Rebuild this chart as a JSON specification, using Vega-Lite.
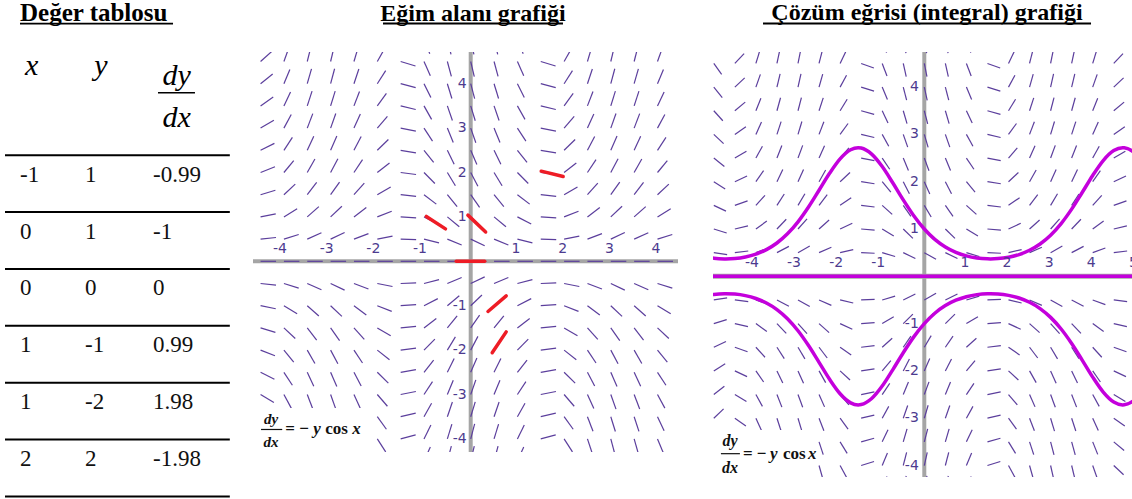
{
"$schema":"https://vega.github.io/schema/vega-lite/v6.json",
"padding":0,
"background":"white",
"spacing":20,
"config":{"view":{"stroke":null},"axis":{"disable":true}},
"resolve":{"scale":{"angle":"independent"}},
"datasets":{
"table":[{"i":1,"x":"-1","y":"1","d":"-0.99"},{"i":2,"x":"0","y":"1","d":"-1"},{"i":3,"x":"0","y":"0","d":"0"},{"i":4,"x":"1","y":"-1","d":"0.99"},{"i":5,"x":"1","y":"-2","d":"1.98"},{"i":6,"x":"2","y":"2","d":"-1.98"}],
"ticks":[{"v":-4,"t":"-4"},{"v":-3,"t":"-3"},{"v":-2,"t":"-2"},{"v":-1,"t":"-1"},{"v":1,"t":"1"},{"v":2,"t":"2"},{"v":3,"t":"3"},{"v":4,"t":"4"},{"v":5,"t":"5"}],
"red":[{"x1":-0.95,"y1":1.01,"x2":-0.54,"y2":0.73},{"x1":-0.06,"y1":1.04,"x2":0.32,"y2":0.66},{"x1":-0.31,"y1":0,"x2":0.3,"y2":0},{"x1":1.51,"y1":2.03,"x2":1.98,"y2":1.91},{"x1":0.37,"y1":-1.13,"x2":0.76,"y2":-0.78},{"x1":0.46,"y1":-2.06,"x2":0.76,"y2":-1.59}],
"curves":[
{"c":"u","x":-5.1,"y":0.3962},{"c":"u","x":-5,"y":0.3833},{"c":"u","x":-4.75,"y":0.3681},{"c":"u","x":-4.7124,"y":0.3679},{"c":"u","x":-4.5,"y":0.3762},{"c":"u","x":-4.25,"y":0.4086},{"c":"u","x":-4,"y":0.4692},{"c":"u","x":-3.75,"y":0.5646},{"c":"u","x":-3.5,"y":0.7041},{"c":"u","x":-3.25,"y":0.8974},{"c":"u","x":-3,"y":1.1515},{"c":"u","x":-2.75,"y":1.4648},{"c":"u","x":-2.5,"y":1.8194},{"c":"u","x":-2.25,"y":2.1773},{"c":"u","x":-2,"y":2.4826},{"c":"u","x":-1.75,"y":2.6752},{"c":"u","x":-1.5708,"y":2.7183},{"c":"u","x":-1.5,"y":2.7115},{"c":"u","x":-1.25,"y":2.5831},{"c":"u","x":-1,"y":2.3198},{"c":"u","x":-0.75,"y":1.9771},{"c":"u","x":-0.5,"y":1.6151},{"c":"u","x":-0.25,"y":1.2807},{"c":"u","x":0,"y":1},{"c":"u","x":0.25,"y":0.7808},{"c":"u","x":0.5,"y":0.6192},{"c":"u","x":0.75,"y":0.5058},{"c":"u","x":1,"y":0.4311},{"c":"u","x":1.25,"y":0.3871},{"c":"u","x":1.5,"y":0.3688},{"c":"u","x":1.5708,"y":0.3679},{"c":"u","x":1.75,"y":0.3738},{"c":"u","x":2,"y":0.4028},{"c":"u","x":2.25,"y":0.4593},{"c":"u","x":2.5,"y":0.5496},{"c":"u","x":2.75,"y":0.6827},{"c":"u","x":3,"y":0.8684},{"c":"u","x":3.25,"y":1.1143},{"c":"u","x":3.5,"y":1.4202},{"c":"u","x":3.75,"y":1.771},{"c":"u","x":4,"y":2.1314},{"c":"u","x":4.25,"y":2.4473},{"c":"u","x":4.5,"y":2.6578},{"c":"u","x":4.7124,"y":2.7183},{"c":"u","x":4.75,"y":2.7164},{"c":"u","x":5,"y":2.6088},{"c":"u","x":5.1,"y":2.5239},
{"c":"l","x":-5.1,"y":-0.3962},{"c":"l","x":-5,"y":-0.3833},{"c":"l","x":-4.75,"y":-0.3681},{"c":"l","x":-4.7124,"y":-0.3679},{"c":"l","x":-4.5,"y":-0.3762},{"c":"l","x":-4.25,"y":-0.4086},{"c":"l","x":-4,"y":-0.4692},{"c":"l","x":-3.75,"y":-0.5646},{"c":"l","x":-3.5,"y":-0.7041},{"c":"l","x":-3.25,"y":-0.8974},{"c":"l","x":-3,"y":-1.1515},{"c":"l","x":-2.75,"y":-1.4648},{"c":"l","x":-2.5,"y":-1.8194},{"c":"l","x":-2.25,"y":-2.1773},{"c":"l","x":-2,"y":-2.4826},{"c":"l","x":-1.75,"y":-2.6752},{"c":"l","x":-1.5708,"y":-2.7183},{"c":"l","x":-1.5,"y":-2.7115},{"c":"l","x":-1.25,"y":-2.5831},{"c":"l","x":-1,"y":-2.3198},{"c":"l","x":-0.75,"y":-1.9771},{"c":"l","x":-0.5,"y":-1.6151},{"c":"l","x":-0.25,"y":-1.2807},{"c":"l","x":0,"y":-1},{"c":"l","x":0.25,"y":-0.7808},{"c":"l","x":0.5,"y":-0.6192},{"c":"l","x":0.75,"y":-0.5058},{"c":"l","x":1,"y":-0.4311},{"c":"l","x":1.25,"y":-0.3871},{"c":"l","x":1.5,"y":-0.3688},{"c":"l","x":1.5708,"y":-0.3679},{"c":"l","x":1.75,"y":-0.3738},{"c":"l","x":2,"y":-0.4028},{"c":"l","x":2.25,"y":-0.4593},{"c":"l","x":2.5,"y":-0.5496},{"c":"l","x":2.75,"y":-0.6827},{"c":"l","x":3,"y":-0.8684},{"c":"l","x":3.25,"y":-1.1143},{"c":"l","x":3.5,"y":-1.4202},{"c":"l","x":3.75,"y":-1.771},{"c":"l","x":4,"y":-2.1314},{"c":"l","x":4.25,"y":-2.4473},{"c":"l","x":4.5,"y":-2.6578},{"c":"l","x":4.7124,"y":-2.7183},{"c":"l","x":4.75,"y":-2.7164},{"c":"l","x":5,"y":-2.6088},{"c":"l","x":5.1,"y":-2.5239},
{"c":"z","x":-5.1,"y":0},{"c":"z","x":5.1,"y":0}],
"field":[
{"x":-5,"y":-4.5,"s":1.28},{"x":-5,"y":-4,"s":1.13},{"x":-5,"y":-3.5,"s":0.99},{"x":-5,"y":-3,"s":0.85},{"x":-5,"y":-2.5,"s":0.71},{"x":-5,"y":-2,"s":0.57},{"x":-5,"y":-1.5,"s":0.43},{"x":-5,"y":-1,"s":0.28},{"x":-5,"y":-0.5,"s":0.14},{"x":-5,"y":0,"s":0},{"x":-5,"y":0.5,"s":-0.14},{"x":-5,"y":1,"s":-0.28},{"x":-5,"y":1.5,"s":-0.43},{"x":-5,"y":2,"s":-0.57},{"x":-5,"y":2.5,"s":-0.71},{"x":-5,"y":3,"s":-0.85},{"x":-5,"y":3.5,"s":-0.99},{"x":-5,"y":4,"s":-1.13},{"x":-5,"y":4.5,"s":-1.28},{"x":-5,"y":5,"s":-1.42},
{"x":-4.5,"y":-4.5,"s":-0.95},{"x":-4.5,"y":-4,"s":-0.84},{"x":-4.5,"y":-3.5,"s":-0.74},{"x":-4.5,"y":-3,"s":-0.63},{"x":-4.5,"y":-2.5,"s":-0.53},{"x":-4.5,"y":-2,"s":-0.42},{"x":-4.5,"y":-1.5,"s":-0.32},{"x":-4.5,"y":-1,"s":-0.21},{"x":-4.5,"y":-0.5,"s":-0.11},{"x":-4.5,"y":0,"s":0},{"x":-4.5,"y":0.5,"s":0.11},{"x":-4.5,"y":1,"s":0.21},{"x":-4.5,"y":1.5,"s":0.32},{"x":-4.5,"y":2,"s":0.42},{"x":-4.5,"y":2.5,"s":0.53},{"x":-4.5,"y":3,"s":0.63},{"x":-4.5,"y":3.5,"s":0.74},{"x":-4.5,"y":4,"s":0.84},{"x":-4.5,"y":4.5,"s":0.95},{"x":-4.5,"y":5,"s":1.05},
{"x":-4,"y":-4.5,"s":-2.94},{"x":-4,"y":-4,"s":-2.61},{"x":-4,"y":-3.5,"s":-2.29},{"x":-4,"y":-3,"s":-1.96},{"x":-4,"y":-2.5,"s":-1.63},{"x":-4,"y":-2,"s":-1.31},{"x":-4,"y":-1.5,"s":-0.98},{"x":-4,"y":-1,"s":-0.65},{"x":-4,"y":-0.5,"s":-0.33},{"x":-4,"y":0,"s":0},{"x":-4,"y":0.5,"s":0.33},{"x":-4,"y":1,"s":0.65},{"x":-4,"y":1.5,"s":0.98},{"x":-4,"y":2,"s":1.31},{"x":-4,"y":2.5,"s":1.63},{"x":-4,"y":3,"s":1.96},{"x":-4,"y":3.5,"s":2.29},{"x":-4,"y":4,"s":2.61},{"x":-4,"y":4.5,"s":2.94},{"x":-4,"y":5,"s":3.27},
{"x":-3.5,"y":-4.5,"s":-4.21},{"x":-3.5,"y":-4,"s":-3.75},{"x":-3.5,"y":-3.5,"s":-3.28},{"x":-3.5,"y":-3,"s":-2.81},{"x":-3.5,"y":-2.5,"s":-2.34},{"x":-3.5,"y":-2,"s":-1.87},{"x":-3.5,"y":-1.5,"s":-1.4},{"x":-3.5,"y":-1,"s":-0.94},{"x":-3.5,"y":-0.5,"s":-0.47},{"x":-3.5,"y":0,"s":0},{"x":-3.5,"y":0.5,"s":0.47},{"x":-3.5,"y":1,"s":0.94},{"x":-3.5,"y":1.5,"s":1.4},{"x":-3.5,"y":2,"s":1.87},{"x":-3.5,"y":2.5,"s":2.34},{"x":-3.5,"y":3,"s":2.81},{"x":-3.5,"y":3.5,"s":3.28},{"x":-3.5,"y":4,"s":3.75},{"x":-3.5,"y":4.5,"s":4.21},{"x":-3.5,"y":5,"s":4.68},
{"x":-3,"y":-4.5,"s":-4.46},{"x":-3,"y":-4,"s":-3.96},{"x":-3,"y":-3.5,"s":-3.47},{"x":-3,"y":-3,"s":-2.97},{"x":-3,"y":-2.5,"s":-2.48},{"x":-3,"y":-2,"s":-1.98},{"x":-3,"y":-1.5,"s":-1.49},{"x":-3,"y":-1,"s":-0.99},{"x":-3,"y":-0.5,"s":-0.5},{"x":-3,"y":0,"s":0},{"x":-3,"y":0.5,"s":0.5},{"x":-3,"y":1,"s":0.99},{"x":-3,"y":1.5,"s":1.49},{"x":-3,"y":2,"s":1.98},{"x":-3,"y":2.5,"s":2.48},{"x":-3,"y":3,"s":2.97},{"x":-3,"y":3.5,"s":3.47},{"x":-3,"y":4,"s":3.96},{"x":-3,"y":4.5,"s":4.46},{"x":-3,"y":5,"s":4.95},
{"x":-2.5,"y":-4.5,"s":-3.6},{"x":-2.5,"y":-4,"s":-3.2},{"x":-2.5,"y":-3.5,"s":-2.8},{"x":-2.5,"y":-3,"s":-2.4},{"x":-2.5,"y":-2.5,"s":-2},{"x":-2.5,"y":-2,"s":-1.6},{"x":-2.5,"y":-1.5,"s":-1.2},{"x":-2.5,"y":-1,"s":-0.8},{"x":-2.5,"y":-0.5,"s":-0.4},{"x":-2.5,"y":0,"s":0},{"x":-2.5,"y":0.5,"s":0.4},{"x":-2.5,"y":1,"s":0.8},{"x":-2.5,"y":1.5,"s":1.2},{"x":-2.5,"y":2,"s":1.6},{"x":-2.5,"y":2.5,"s":2},{"x":-2.5,"y":3,"s":2.4},{"x":-2.5,"y":3.5,"s":2.8},{"x":-2.5,"y":4,"s":3.2},{"x":-2.5,"y":4.5,"s":3.6},{"x":-2.5,"y":5,"s":4.01},
{"x":-2,"y":-4.5,"s":-1.87},{"x":-2,"y":-4,"s":-1.66},{"x":-2,"y":-3.5,"s":-1.46},{"x":-2,"y":-3,"s":-1.25},{"x":-2,"y":-2.5,"s":-1.04},{"x":-2,"y":-2,"s":-0.83},{"x":-2,"y":-1.5,"s":-0.62},{"x":-2,"y":-1,"s":-0.42},{"x":-2,"y":-0.5,"s":-0.21},{"x":-2,"y":0,"s":0},{"x":-2,"y":0.5,"s":0.21},{"x":-2,"y":1,"s":0.42},{"x":-2,"y":1.5,"s":0.62},{"x":-2,"y":2,"s":0.83},{"x":-2,"y":2.5,"s":1.04},{"x":-2,"y":3,"s":1.25},{"x":-2,"y":3.5,"s":1.46},{"x":-2,"y":4,"s":1.66},{"x":-2,"y":4.5,"s":1.87},{"x":-2,"y":5,"s":2.08},
{"x":-1.5,"y":-4.5,"s":0.32},{"x":-1.5,"y":-4,"s":0.28},{"x":-1.5,"y":-3.5,"s":0.25},{"x":-1.5,"y":-3,"s":0.21},{"x":-1.5,"y":-2.5,"s":0.18},{"x":-1.5,"y":-2,"s":0.14},{"x":-1.5,"y":-1.5,"s":0.11},{"x":-1.5,"y":-1,"s":0.07},{"x":-1.5,"y":-0.5,"s":0.04},{"x":-1.5,"y":0,"s":0},{"x":-1.5,"y":0.5,"s":-0.04},{"x":-1.5,"y":1,"s":-0.07},{"x":-1.5,"y":1.5,"s":-0.11},{"x":-1.5,"y":2,"s":-0.14},{"x":-1.5,"y":2.5,"s":-0.18},{"x":-1.5,"y":3,"s":-0.21},{"x":-1.5,"y":3.5,"s":-0.25},{"x":-1.5,"y":4,"s":-0.28},{"x":-1.5,"y":4.5,"s":-0.32},{"x":-1.5,"y":5,"s":-0.35},
{"x":-1,"y":-4.5,"s":2.43},{"x":-1,"y":-4,"s":2.16},{"x":-1,"y":-3.5,"s":1.89},{"x":-1,"y":-3,"s":1.62},{"x":-1,"y":-2.5,"s":1.35},{"x":-1,"y":-2,"s":1.08},{"x":-1,"y":-1.5,"s":0.81},{"x":-1,"y":-1,"s":0.54},{"x":-1,"y":-0.5,"s":0.27},{"x":-1,"y":0,"s":0},{"x":-1,"y":0.5,"s":-0.27},{"x":-1,"y":1,"s":-0.54},{"x":-1,"y":1.5,"s":-0.81},{"x":-1,"y":2,"s":-1.08},{"x":-1,"y":2.5,"s":-1.35},{"x":-1,"y":3,"s":-1.62},{"x":-1,"y":3.5,"s":-1.89},{"x":-1,"y":4,"s":-2.16},{"x":-1,"y":4.5,"s":-2.43},{"x":-1,"y":5,"s":-2.7},
{"x":-0.5,"y":-4.5,"s":3.95},{"x":-0.5,"y":-4,"s":3.51},{"x":-0.5,"y":-3.5,"s":3.07},{"x":-0.5,"y":-3,"s":2.63},{"x":-0.5,"y":-2.5,"s":2.19},{"x":-0.5,"y":-2,"s":1.76},{"x":-0.5,"y":-1.5,"s":1.32},{"x":-0.5,"y":-1,"s":0.88},{"x":-0.5,"y":-0.5,"s":0.44},{"x":-0.5,"y":0,"s":0},{"x":-0.5,"y":0.5,"s":-0.44},{"x":-0.5,"y":1,"s":-0.88},{"x":-0.5,"y":1.5,"s":-1.32},{"x":-0.5,"y":2,"s":-1.76},{"x":-0.5,"y":2.5,"s":-2.19},{"x":-0.5,"y":3,"s":-2.63},{"x":-0.5,"y":3.5,"s":-3.07},{"x":-0.5,"y":4,"s":-3.51},{"x":-0.5,"y":4.5,"s":-3.95},{"x":-0.5,"y":5,"s":-4.39},
{"x":0,"y":-4.5,"s":4.5},{"x":0,"y":-4,"s":4},{"x":0,"y":-3.5,"s":3.5},{"x":0,"y":-3,"s":3},{"x":0,"y":-2.5,"s":2.5},{"x":0,"y":-2,"s":2},{"x":0,"y":-1.5,"s":1.5},{"x":0,"y":-1,"s":1},{"x":0,"y":-0.5,"s":0.5},{"x":0,"y":0,"s":0},{"x":0,"y":0.5,"s":-0.5},{"x":0,"y":1,"s":-1},{"x":0,"y":1.5,"s":-1.5},{"x":0,"y":2,"s":-2},{"x":0,"y":2.5,"s":-2.5},{"x":0,"y":3,"s":-3},{"x":0,"y":3.5,"s":-3.5},{"x":0,"y":4,"s":-4},{"x":0,"y":4.5,"s":-4.5},{"x":0,"y":5,"s":-5},
{"x":0.5,"y":-4.5,"s":3.95},{"x":0.5,"y":-4,"s":3.51},{"x":0.5,"y":-3.5,"s":3.07},{"x":0.5,"y":-3,"s":2.63},{"x":0.5,"y":-2.5,"s":2.19},{"x":0.5,"y":-2,"s":1.76},{"x":0.5,"y":-1.5,"s":1.32},{"x":0.5,"y":-1,"s":0.88},{"x":0.5,"y":-0.5,"s":0.44},{"x":0.5,"y":0,"s":0},{"x":0.5,"y":0.5,"s":-0.44},{"x":0.5,"y":1,"s":-0.88},{"x":0.5,"y":1.5,"s":-1.32},{"x":0.5,"y":2,"s":-1.76},{"x":0.5,"y":2.5,"s":-2.19},{"x":0.5,"y":3,"s":-2.63},{"x":0.5,"y":3.5,"s":-3.07},{"x":0.5,"y":4,"s":-3.51},{"x":0.5,"y":4.5,"s":-3.95},{"x":0.5,"y":5,"s":-4.39},
{"x":1,"y":-4.5,"s":2.43},{"x":1,"y":-4,"s":2.16},{"x":1,"y":-3.5,"s":1.89},{"x":1,"y":-3,"s":1.62},{"x":1,"y":-2.5,"s":1.35},{"x":1,"y":-2,"s":1.08},{"x":1,"y":-1.5,"s":0.81},{"x":1,"y":-1,"s":0.54},{"x":1,"y":-0.5,"s":0.27},{"x":1,"y":0,"s":0},{"x":1,"y":0.5,"s":-0.27},{"x":1,"y":1,"s":-0.54},{"x":1,"y":1.5,"s":-0.81},{"x":1,"y":2,"s":-1.08},{"x":1,"y":2.5,"s":-1.35},{"x":1,"y":3,"s":-1.62},{"x":1,"y":3.5,"s":-1.89},{"x":1,"y":4,"s":-2.16},{"x":1,"y":4.5,"s":-2.43},{"x":1,"y":5,"s":-2.7},
{"x":1.5,"y":-4.5,"s":0.32},{"x":1.5,"y":-4,"s":0.28},{"x":1.5,"y":-3.5,"s":0.25},{"x":1.5,"y":-3,"s":0.21},{"x":1.5,"y":-2.5,"s":0.18},{"x":1.5,"y":-2,"s":0.14},{"x":1.5,"y":-1.5,"s":0.11},{"x":1.5,"y":-1,"s":0.07},{"x":1.5,"y":-0.5,"s":0.04},{"x":1.5,"y":0,"s":0},{"x":1.5,"y":0.5,"s":-0.04},{"x":1.5,"y":1,"s":-0.07},{"x":1.5,"y":1.5,"s":-0.11},{"x":1.5,"y":2,"s":-0.14},{"x":1.5,"y":2.5,"s":-0.18},{"x":1.5,"y":3,"s":-0.21},{"x":1.5,"y":3.5,"s":-0.25},{"x":1.5,"y":4,"s":-0.28},{"x":1.5,"y":4.5,"s":-0.32},{"x":1.5,"y":5,"s":-0.35},
{"x":2,"y":-4.5,"s":-1.87},{"x":2,"y":-4,"s":-1.66},{"x":2,"y":-3.5,"s":-1.46},{"x":2,"y":-3,"s":-1.25},{"x":2,"y":-2.5,"s":-1.04},{"x":2,"y":-2,"s":-0.83},{"x":2,"y":-1.5,"s":-0.62},{"x":2,"y":-1,"s":-0.42},{"x":2,"y":-0.5,"s":-0.21},{"x":2,"y":0,"s":0},{"x":2,"y":0.5,"s":0.21},{"x":2,"y":1,"s":0.42},{"x":2,"y":1.5,"s":0.62},{"x":2,"y":2,"s":0.83},{"x":2,"y":2.5,"s":1.04},{"x":2,"y":3,"s":1.25},{"x":2,"y":3.5,"s":1.46},{"x":2,"y":4,"s":1.66},{"x":2,"y":4.5,"s":1.87},{"x":2,"y":5,"s":2.08},
{"x":2.5,"y":-4.5,"s":-3.6},{"x":2.5,"y":-4,"s":-3.2},{"x":2.5,"y":-3.5,"s":-2.8},{"x":2.5,"y":-3,"s":-2.4},{"x":2.5,"y":-2.5,"s":-2},{"x":2.5,"y":-2,"s":-1.6},{"x":2.5,"y":-1.5,"s":-1.2},{"x":2.5,"y":-1,"s":-0.8},{"x":2.5,"y":-0.5,"s":-0.4},{"x":2.5,"y":0,"s":0},{"x":2.5,"y":0.5,"s":0.4},{"x":2.5,"y":1,"s":0.8},{"x":2.5,"y":1.5,"s":1.2},{"x":2.5,"y":2,"s":1.6},{"x":2.5,"y":2.5,"s":2},{"x":2.5,"y":3,"s":2.4},{"x":2.5,"y":3.5,"s":2.8},{"x":2.5,"y":4,"s":3.2},{"x":2.5,"y":4.5,"s":3.6},{"x":2.5,"y":5,"s":4.01},
{"x":3,"y":-4.5,"s":-4.46},{"x":3,"y":-4,"s":-3.96},{"x":3,"y":-3.5,"s":-3.47},{"x":3,"y":-3,"s":-2.97},{"x":3,"y":-2.5,"s":-2.48},{"x":3,"y":-2,"s":-1.98},{"x":3,"y":-1.5,"s":-1.49},{"x":3,"y":-1,"s":-0.99},{"x":3,"y":-0.5,"s":-0.5},{"x":3,"y":0,"s":0},{"x":3,"y":0.5,"s":0.5},{"x":3,"y":1,"s":0.99},{"x":3,"y":1.5,"s":1.49},{"x":3,"y":2,"s":1.98},{"x":3,"y":2.5,"s":2.48},{"x":3,"y":3,"s":2.97},{"x":3,"y":3.5,"s":3.47},{"x":3,"y":4,"s":3.96},{"x":3,"y":4.5,"s":4.46},{"x":3,"y":5,"s":4.95},
{"x":3.5,"y":-4.5,"s":-4.21},{"x":3.5,"y":-4,"s":-3.75},{"x":3.5,"y":-3.5,"s":-3.28},{"x":3.5,"y":-3,"s":-2.81},{"x":3.5,"y":-2.5,"s":-2.34},{"x":3.5,"y":-2,"s":-1.87},{"x":3.5,"y":-1.5,"s":-1.4},{"x":3.5,"y":-1,"s":-0.94},{"x":3.5,"y":-0.5,"s":-0.47},{"x":3.5,"y":0,"s":0},{"x":3.5,"y":0.5,"s":0.47},{"x":3.5,"y":1,"s":0.94},{"x":3.5,"y":1.5,"s":1.4},{"x":3.5,"y":2,"s":1.87},{"x":3.5,"y":2.5,"s":2.34},{"x":3.5,"y":3,"s":2.81},{"x":3.5,"y":3.5,"s":3.28},{"x":3.5,"y":4,"s":3.75},{"x":3.5,"y":4.5,"s":4.21},{"x":3.5,"y":5,"s":4.68},
{"x":4,"y":-4.5,"s":-2.94},{"x":4,"y":-4,"s":-2.61},{"x":4,"y":-3.5,"s":-2.29},{"x":4,"y":-3,"s":-1.96},{"x":4,"y":-2.5,"s":-1.63},{"x":4,"y":-2,"s":-1.31},{"x":4,"y":-1.5,"s":-0.98},{"x":4,"y":-1,"s":-0.65},{"x":4,"y":-0.5,"s":-0.33},{"x":4,"y":0,"s":0},{"x":4,"y":0.5,"s":0.33},{"x":4,"y":1,"s":0.65},{"x":4,"y":1.5,"s":0.98},{"x":4,"y":2,"s":1.31},{"x":4,"y":2.5,"s":1.63},{"x":4,"y":3,"s":1.96},{"x":4,"y":3.5,"s":2.29},{"x":4,"y":4,"s":2.61},{"x":4,"y":4.5,"s":2.94},{"x":4,"y":5,"s":3.27},
{"x":4.5,"y":-4.5,"s":-0.95},{"x":4.5,"y":-4,"s":-0.84},{"x":4.5,"y":-3.5,"s":-0.74},{"x":4.5,"y":-3,"s":-0.63},{"x":4.5,"y":-2.5,"s":-0.53},{"x":4.5,"y":-2,"s":-0.42},{"x":4.5,"y":-1.5,"s":-0.32},{"x":4.5,"y":-1,"s":-0.21},{"x":4.5,"y":-0.5,"s":-0.11},{"x":4.5,"y":0,"s":0},{"x":4.5,"y":0.5,"s":0.11},{"x":4.5,"y":1,"s":0.21},{"x":4.5,"y":1.5,"s":0.32},{"x":4.5,"y":2,"s":0.42},{"x":4.5,"y":2.5,"s":0.53},{"x":4.5,"y":3,"s":0.63},{"x":4.5,"y":3.5,"s":0.74},{"x":4.5,"y":4,"s":0.84},{"x":4.5,"y":4.5,"s":0.95},{"x":4.5,"y":5,"s":1.05},
{"x":5,"y":-4.5,"s":1.28},{"x":5,"y":-4,"s":1.13},{"x":5,"y":-3.5,"s":0.99},{"x":5,"y":-3,"s":0.85},{"x":5,"y":-2.5,"s":0.71},{"x":5,"y":-2,"s":0.57},{"x":5,"y":-1.5,"s":0.43},{"x":5,"y":-1,"s":0.28},{"x":5,"y":-0.5,"s":0.14},{"x":5,"y":0,"s":0},{"x":5,"y":0.5,"s":-0.14},{"x":5,"y":1,"s":-0.28},{"x":5,"y":1.5,"s":-0.43},{"x":5,"y":2,"s":-0.57},{"x":5,"y":2.5,"s":-0.71},{"x":5,"y":3,"s":-0.85},{"x":5,"y":3.5,"s":-0.99},{"x":5,"y":4,"s":-1.13},{"x":5,"y":4.5,"s":-1.28},{"x":5,"y":5,"s":-1.42}
]},
"hconcat":[
{"width":230,"height":499,
"layer":[
{"data":{"name":"table"},"mark":{"type":"rule","color":"#000","strokeWidth":2,"yOffset":-26.5},"encoding":{"x":{"datum":-0.2256,"type":"quantitative","scale":{"domain":[-0.3008,3.1578],"nice":false,"zero":false}},"x2":{"datum":3.155},"y":{"field":"i","type":"quantitative","scale":{"domain":[-2.196,6.58],"reverse":true,"nice":false,"zero":false}}}},
{"data":{"values":[{}]},"mark":{"type":"rule","color":"#000","strokeWidth":2,"yOffset":-26.5},"encoding":{"x":{"datum":-0.2256,"type":"quantitative","scale":{"domain":[-0.3008,3.1578],"nice":false,"zero":false}},"x2":{"datum":3.155},"y":{"datum":7,"type":"quantitative","scale":{"domain":[-2.196,6.58],"reverse":true,"nice":false,"zero":false}}}},
{"data":{"values":[{}]},"mark":{"type":"text","text":"Değer tablosu","font":"Liberation Serif","fontSize":25,"fontWeight":"bold","align":"left","baseline":"alphabetic","color":"#000"},"encoding":{"x":{"datum":0,"type":"quantitative","scale":{"domain":[-0.3008,3.1578],"nice":false,"zero":false}},"y":{"datum":-1.835,"type":"quantitative","scale":{"domain":[-2.196,6.58],"reverse":true,"nice":false,"zero":false}}}},
{"data":{"values":[{}]},"mark":{"type":"rule","color":"#000","strokeWidth":1.8},"encoding":{"x":{"datum":0,"type":"quantitative","scale":{"domain":[-0.3008,3.1578],"nice":false,"zero":false}},"x2":{"datum":2.301},"y":{"datum":-1.782,"type":"quantitative","scale":{"domain":[-2.196,6.58],"reverse":true,"nice":false,"zero":false}}}},
{"data":{"values":[{}]},"mark":{"type":"text","text":"x","font":"Liberation Serif","fontSize":30,"fontStyle":"italic","align":"center","baseline":"alphabetic","color":"#000"},"encoding":{"x":{"datum":0.176,"type":"quantitative","scale":{"domain":[-0.3008,3.1578],"nice":false,"zero":false}},"y":{"datum":-0.877,"type":"quantitative","scale":{"domain":[-2.196,6.58],"reverse":true,"nice":false,"zero":false}}}},
{"data":{"values":[{}]},"mark":{"type":"text","text":"y","font":"Liberation Serif","fontSize":30,"fontStyle":"italic","align":"center","baseline":"alphabetic","color":"#000"},"encoding":{"x":{"datum":1.218,"type":"quantitative","scale":{"domain":[-0.3008,3.1578],"nice":false,"zero":false}},"y":{"datum":-0.877,"type":"quantitative","scale":{"domain":[-2.196,6.58],"reverse":true,"nice":false,"zero":false}}}},
{"data":{"values":[{}]},"mark":{"type":"text","text":"dy","font":"Liberation Serif","fontSize":30,"fontStyle":"italic","align":"center","baseline":"alphabetic","color":"#000"},"encoding":{"x":{"datum":2.356,"type":"quantitative","scale":{"domain":[-0.3008,3.1578],"nice":false,"zero":false}},"y":{"datum":-0.701,"type":"quantitative","scale":{"domain":[-2.196,6.58],"reverse":true,"nice":false,"zero":false}}}},
{"data":{"values":[{}]},"mark":{"type":"rule","color":"#000","strokeWidth":1.5},"encoding":{"x":{"datum":2.075,"type":"quantitative","scale":{"domain":[-0.3008,3.1578],"nice":false,"zero":false}},"x2":{"datum":2.631},"y":{"datum":-0.565,"type":"quantitative","scale":{"domain":[-2.196,6.58],"reverse":true,"nice":false,"zero":false}}}},
{"data":{"values":[{}]},"mark":{"type":"text","text":"dx","font":"Liberation Serif","fontSize":30,"fontStyle":"italic","align":"center","baseline":"alphabetic","color":"#000"},"encoding":{"x":{"datum":2.356,"type":"quantitative","scale":{"domain":[-0.3008,3.1578],"nice":false,"zero":false}},"y":{"datum":0.032,"type":"quantitative","scale":{"domain":[-2.196,6.58],"reverse":true,"nice":false,"zero":false}}}},
{"data":{"name":"table"},"mark":{"type":"text","font":"Liberation Serif","fontSize":23,"align":"left","baseline":"alphabetic","color":"#111"},"encoding":{"x":{"datum":0,"type":"quantitative","scale":{"domain":[-0.3008,3.1578],"nice":false,"zero":false}},"y":{"field":"i","type":"quantitative","scale":{"domain":[-2.196,6.58],"reverse":true,"nice":false,"zero":false}},"text":{"field":"x"}}},
{"data":{"name":"table"},"mark":{"type":"text","font":"Liberation Serif","fontSize":23,"align":"left","baseline":"alphabetic","color":"#111"},"encoding":{"x":{"datum":0.977,"type":"quantitative","scale":{"domain":[-0.3008,3.1578],"nice":false,"zero":false}},"y":{"field":"i","type":"quantitative","scale":{"domain":[-2.196,6.58],"reverse":true,"nice":false,"zero":false}},"text":{"field":"y"}}},
{"data":{"name":"table"},"mark":{"type":"text","font":"Liberation Serif","fontSize":23,"align":"left","baseline":"alphabetic","color":"#111"},"encoding":{"x":{"datum":2.0,"type":"quantitative","scale":{"domain":[-0.3008,3.1578],"nice":false,"zero":false}},"y":{"field":"i","type":"quantitative","scale":{"domain":[-2.196,6.58],"reverse":true,"nice":false,"zero":false}},"text":{"field":"d"}}}
]},
{"vconcat":[
{"width":437,"height":50,"data":{"values":[{}]},
"layer":[
{"mark":{"type":"text","text":"Eğim alanı grafiği","font":"Liberation Serif","fontSize":24,"fontWeight":"bold","align":"center","baseline":"alphabetic","color":"#000"},"encoding":{"x":{"datum":0.049,"type":"quantitative","scale":{"domain":[-4.662,4.696],"nice":false,"zero":false}},"y":{"datum":5.378,"type":"quantitative","scale":{"domain":[4.714,5.84],"nice":false,"zero":false}}}},
{"mark":{"type":"rule","color":"#000","strokeWidth":1.8},"encoding":{"x":{"datum":-1.878,"type":"quantitative","scale":{"domain":[-4.662,4.696],"nice":false,"zero":false}},"x2":{"datum":1.976},"y":{"datum":5.311,"type":"quantitative","scale":{"domain":[4.714,5.84],"nice":false,"zero":false}}}}
]},
{"width":437,"height":400,
"layer":[
{"data":{"values":[{}]},"mark":{"type":"rule","color":"#a5a5a5","strokeWidth":4},"encoding":{"x":{"datum":-4.662,"type":"quantitative","scale":{"domain":[-4.662,4.696],"nice":false,"zero":false}},"x2":{"datum":4.439},"y":{"datum":0,"type":"quantitative","scale":{"domain":[-4.295,4.714],"nice":false,"zero":false}}}},
{"data":{"values":[{}]},"mark":{"type":"rule","color":"#a5a5a5","strokeWidth":4},"encoding":{"x":{"datum":0,"type":"quantitative","scale":{"domain":[-4.662,4.696],"nice":false,"zero":false}}}},
{"data":{"name":"field"},"transform":[{"filter":"datum.x <= 4.2"}],"mark":{"type":"point","shape":"M0,0L2,0","size":240,"filled":false,"color":"#5b3e9c","strokeWidth":1.2,"opacity":1,"clip":true},"encoding":{"x":{"field":"x","type":"quantitative","scale":{"domain":[-4.662,4.696],"nice":false,"zero":false}},"y":{"field":"y","type":"quantitative","scale":{"domain":[-4.295,4.714],"nice":false,"zero":false}},"angle":{"field":"s","type":"quantitative","scale":{"type":"linear","zero":false,"nice":false,"domain":[-5,-4,-3,-2,-1.5,-1,-0.75,-0.5,-0.25,0,0.25,0.5,0.75,1,1.5,2,3,4,5],"range":[78.12,75.27,70.69,62.27,54.97,43.56,35.5,25.43,13.37,0,-13.37,-25.43,-35.5,-43.56,-54.97,-62.27,-70.69,-75.27,-78.12]}}}},
{"data":{"name":"red"},"mark":{"type":"rule","color":"#ee1c25","strokeWidth":3.5,"strokeCap":"round"},"encoding":{"x":{"field":"x1","type":"quantitative","scale":{"domain":[-4.662,4.696],"nice":false,"zero":false}},"x2":{"field":"x2"},"y":{"field":"y1","type":"quantitative","scale":{"domain":[-4.295,4.714],"nice":false,"zero":false}},"y2":{"field":"y2"}}},
{"data":{"name":"ticks"},"transform":[{"filter":"datum.v <= 4"}],"mark":{"type":"text","align":"right","baseline":"middle","dx":3,"dy":-12.6,"font":"DejaVu Sans","fontSize":14,"color":"#4d3b8f"},"encoding":{"x":{"field":"v","type":"quantitative","scale":{"domain":[-4.662,4.696],"nice":false,"zero":false}},"y":{"datum":0,"type":"quantitative","scale":{"domain":[-4.295,4.714],"nice":false,"zero":false}},"text":{"field":"t"}}},
{"data":{"name":"ticks"},"transform":[{"filter":"datum.v <= 4"}],"mark":{"type":"text","align":"right","baseline":"middle","dx":-4,"font":"DejaVu Sans","fontSize":14,"color":"#4d3b8f"},"encoding":{"y":{"field":"v","type":"quantitative","scale":{"domain":[-4.295,4.714],"nice":false,"zero":false}},"x":{"datum":0,"type":"quantitative","scale":{"domain":[-4.662,4.696],"nice":false,"zero":false}},"text":{"field":"t"}}},
{"data":{"values":[{}]},"mark":{"type":"rect","color":"white"},"encoding":{"x":{"datum":-4.662,"type":"quantitative","scale":{"domain":[-4.662,4.696],"nice":false,"zero":false}},"x2":{"datum":-2.242},"y":{"datum":-3.304,"type":"quantitative","scale":{"domain":[-4.295,4.714],"nice":false,"zero":false}},"y2":{"datum":-4.295}}},
{"data":{"values":[{}]},"mark":{"type":"text","text":"dy","font":"Liberation Serif","fontSize":15,"fontStyle":"italic","fontWeight":"bold","align":"center","baseline":"alphabetic","color":"#111"},"encoding":{"x":{"datum":-4.276,"type":"quantitative","scale":{"domain":[-4.662,4.696],"nice":false,"zero":false}},"y":{"datum":-3.658,"type":"quantitative","scale":{"domain":[-4.295,4.714],"nice":false,"zero":false}}}},
{"data":{"values":[{}]},"mark":{"type":"rule","color":"#111","strokeWidth":1.2},"encoding":{"x":{"datum":-4.49,"type":"quantitative","scale":{"domain":[-4.662,4.696],"nice":false,"zero":false}},"x2":{"datum":-4.036},"y":{"datum":-3.788,"type":"quantitative","scale":{"domain":[-4.295,4.714],"nice":false,"zero":false}}}},
{"data":{"values":[{}]},"mark":{"type":"text","text":"dx","font":"Liberation Serif","fontSize":15,"fontStyle":"italic","fontWeight":"bold","align":"center","baseline":"alphabetic","color":"#111"},"encoding":{"x":{"datum":-4.276,"type":"quantitative","scale":{"domain":[-4.662,4.696],"nice":false,"zero":false}},"y":{"datum":-4.18,"type":"quantitative","scale":{"domain":[-4.295,4.714],"nice":false,"zero":false}}}},
{"data":{"values":[{}]},"mark":{"type":"text","text":"= −","font":"Liberation Serif","fontSize":17,"fontWeight":"bold","align":"left","baseline":"alphabetic","color":"#111"},"encoding":{"x":{"datum":-3.972,"type":"quantitative","scale":{"domain":[-4.662,4.696],"nice":false,"zero":false}},"y":{"datum":-3.883,"type":"quantitative","scale":{"domain":[-4.295,4.714],"nice":false,"zero":false}}}},
{"data":{"values":[{}]},"mark":{"type":"text","text":"y","dx":28,"font":"Liberation Serif","fontSize":17,"fontStyle":"italic","fontWeight":"bold","align":"left","baseline":"alphabetic","color":"#111"},"encoding":{"x":{"datum":-3.972,"type":"quantitative","scale":{"domain":[-4.662,4.696],"nice":false,"zero":false}},"y":{"datum":-3.883,"type":"quantitative","scale":{"domain":[-4.295,4.714],"nice":false,"zero":false}}}},
{"data":{"values":[{}]},"mark":{"type":"text","text":"cos","dx":40,"font":"Liberation Serif","fontSize":17,"fontWeight":"bold","align":"left","baseline":"alphabetic","color":"#111"},"encoding":{"x":{"datum":-3.972,"type":"quantitative","scale":{"domain":[-4.662,4.696],"nice":false,"zero":false}},"y":{"datum":-3.883,"type":"quantitative","scale":{"domain":[-4.295,4.714],"nice":false,"zero":false}}}},
{"data":{"values":[{}]},"mark":{"type":"text","text":"x","dx":67,"font":"Liberation Serif","fontSize":17,"fontStyle":"italic","fontWeight":"bold","align":"left","baseline":"alphabetic","color":"#111"},"encoding":{"x":{"datum":-3.972,"type":"quantitative","scale":{"domain":[-4.662,4.696],"nice":false,"zero":false}},"y":{"datum":-3.883,"type":"quantitative","scale":{"domain":[-4.295,4.714],"nice":false,"zero":false}}}}
]}
],"spacing":0},
{"vconcat":[
{"width":425,"height":50,"data":{"values":[{}]},
"layer":[
{"mark":{"type":"text","text":"Çözüm eğrisi (integral) grafiği","font":"Liberation Serif","fontSize":24,"fontWeight":"bold","align":"center","baseline":"alphabetic","color":"#000"},"encoding":{"x":{"datum":0.064,"type":"quantitative","scale":{"domain":[-5.019,5.076],"nice":false,"zero":false}},"y":{"datum":5.366,"type":"quantitative","scale":{"domain":[4.742,5.799],"nice":false,"zero":false}}}},
{"mark":{"type":"rule","color":"#000","strokeWidth":1.8},"encoding":{"x":{"datum":-3.831,"type":"quantitative","scale":{"domain":[-5.019,5.076],"nice":false,"zero":false}},"x2":{"datum":3.96},"y":{"datum":5.302,"type":"quantitative","scale":{"domain":[4.742,5.799],"nice":false,"zero":false}}}}
]},
{"width":425,"height":425,
"layer":[
{"data":{"values":[{}]},"mark":{"type":"rule","color":"#a5a5a5","strokeWidth":5},"encoding":{"y":{"datum":0,"type":"quantitative","scale":{"domain":[-4.243,4.742],"nice":false,"zero":false}}}},
{"data":{"values":[{}]},"mark":{"type":"rule","color":"#a5a5a5","strokeWidth":4},"encoding":{"x":{"datum":0,"type":"quantitative","scale":{"domain":[-5.019,5.076],"nice":false,"zero":false}}}},
{"data":{"name":"field"},"mark":{"type":"point","shape":"M0,0L2,0","size":182,"filled":false,"color":"#5b3e9c","strokeWidth":1.2,"opacity":1,"clip":true},"encoding":{"x":{"field":"x","type":"quantitative","scale":{"domain":[-5.019,5.076],"nice":false,"zero":false}},"y":{"field":"y","type":"quantitative","scale":{"domain":[-4.243,4.742],"nice":false,"zero":false}},"angle":{"field":"s","type":"quantitative","scale":{"type":"linear","zero":false,"nice":false,"domain":[-5,-4,-3,-2,-1.5,-1,-0.75,-0.5,-0.25,0,0.25,0.5,0.75,1,1.5,2,3,4,5],"range":[79.9,77.45,73.47,66.02,59.32,48.34,40.13,29.34,15.7,0,-15.7,-29.34,-40.13,-48.34,-59.32,-66.02,-73.47,-77.45,-79.9]}}}},
{"data":{"name":"curves"},"mark":{"type":"line","color":"#c400dc","strokeWidth":3.5,"interpolate":"monotone","clip":true},"encoding":{"x":{"field":"x","type":"quantitative","scale":{"domain":[-5.019,5.076],"nice":false,"zero":false}},"y":{"field":"y","type":"quantitative","scale":{"domain":[-4.243,4.742],"nice":false,"zero":false}},"detail":{"field":"c"}}},
{"data":{"name":"ticks"},"mark":{"type":"text","align":"right","baseline":"middle","dx":3,"dy":-13.6,"font":"DejaVu Sans","fontSize":14,"color":"#4d3b8f"},"encoding":{"x":{"field":"v","type":"quantitative","scale":{"domain":[-5.019,5.076],"nice":false,"zero":false}},"y":{"datum":0,"type":"quantitative","scale":{"domain":[-4.243,4.742],"nice":false,"zero":false}},"text":{"field":"t"}}},
{"data":{"name":"ticks"},"transform":[{"filter":"datum.v <= 4"}],"mark":{"type":"text","align":"right","baseline":"middle","dx":-5.5,"font":"DejaVu Sans","fontSize":14,"color":"#4d3b8f"},"encoding":{"y":{"field":"v","type":"quantitative","scale":{"domain":[-4.243,4.742],"nice":false,"zero":false}},"x":{"datum":0,"type":"quantitative","scale":{"domain":[-5.019,5.076],"nice":false,"zero":false}},"text":{"field":"t"}}},
{"data":{"values":[{}]},"mark":{"type":"rect","color":"white"},"encoding":{"x":{"datum":-5.019,"type":"quantitative","scale":{"domain":[-5.019,5.076],"nice":false,"zero":false}},"x2":{"datum":-2.525},"y":{"datum":-3.249,"type":"quantitative","scale":{"domain":[-4.243,4.742],"nice":false,"zero":false}},"y2":{"datum":-4.243}}},
{"data":{"values":[{}]},"mark":{"type":"text","text":"dy","font":"Liberation Serif","fontSize":16,"fontStyle":"italic","fontWeight":"bold","align":"center","baseline":"alphabetic","color":"#111"},"encoding":{"x":{"datum":-4.615,"type":"quantitative","scale":{"domain":[-5.019,5.076],"nice":false,"zero":false}},"y":{"datum":-3.594,"type":"quantitative","scale":{"domain":[-4.243,4.742],"nice":false,"zero":false}}}},
{"data":{"values":[{}]},"mark":{"type":"rule","color":"#111","strokeWidth":1.2},"encoding":{"x":{"datum":-4.831,"type":"quantitative","scale":{"domain":[-5.019,5.076],"nice":false,"zero":false}},"x2":{"datum":-4.38},"y":{"datum":-3.75,"type":"quantitative","scale":{"domain":[-4.243,4.742],"nice":false,"zero":false}}}},
{"data":{"values":[{}]},"mark":{"type":"text","text":"dx","font":"Liberation Serif","fontSize":16,"fontStyle":"italic","fontWeight":"bold","align":"center","baseline":"alphabetic","color":"#111"},"encoding":{"x":{"datum":-4.615,"type":"quantitative","scale":{"domain":[-5.019,5.076],"nice":false,"zero":false}},"y":{"datum":-4.15,"type":"quantitative","scale":{"domain":[-4.243,4.742],"nice":false,"zero":false}}}},
{"data":{"values":[{}]},"mark":{"type":"text","text":"= −","font":"Liberation Serif","fontSize":17,"fontWeight":"bold","align":"left","baseline":"alphabetic","color":"#111"},"encoding":{"x":{"datum":-4.309,"type":"quantitative","scale":{"domain":[-5.019,5.076],"nice":false,"zero":false}},"y":{"datum":-3.856,"type":"quantitative","scale":{"domain":[-4.243,4.742],"nice":false,"zero":false}}}},
{"data":{"values":[{}]},"mark":{"type":"text","text":"y","dx":27,"font":"Liberation Serif","fontSize":17,"fontStyle":"italic","fontWeight":"bold","align":"left","baseline":"alphabetic","color":"#111"},"encoding":{"x":{"datum":-4.309,"type":"quantitative","scale":{"domain":[-5.019,5.076],"nice":false,"zero":false}},"y":{"datum":-3.856,"type":"quantitative","scale":{"domain":[-4.243,4.742],"nice":false,"zero":false}}}},
{"data":{"values":[{}]},"mark":{"type":"text","text":"cos","dx":40,"font":"Liberation Serif","fontSize":17,"fontWeight":"bold","align":"left","baseline":"alphabetic","color":"#111"},"encoding":{"x":{"datum":-4.309,"type":"quantitative","scale":{"domain":[-5.019,5.076],"nice":false,"zero":false}},"y":{"datum":-3.856,"type":"quantitative","scale":{"domain":[-4.243,4.742],"nice":false,"zero":false}}}},
{"data":{"values":[{}]},"mark":{"type":"text","text":"x","dx":65,"font":"Liberation Serif","fontSize":17,"fontStyle":"italic","fontWeight":"bold","align":"left","baseline":"alphabetic","color":"#111"},"encoding":{"x":{"datum":-4.309,"type":"quantitative","scale":{"domain":[-5.019,5.076],"nice":false,"zero":false}},"y":{"datum":-3.856,"type":"quantitative","scale":{"domain":[-4.243,4.742],"nice":false,"zero":false}}}}
]}
],"spacing":0}
]}
